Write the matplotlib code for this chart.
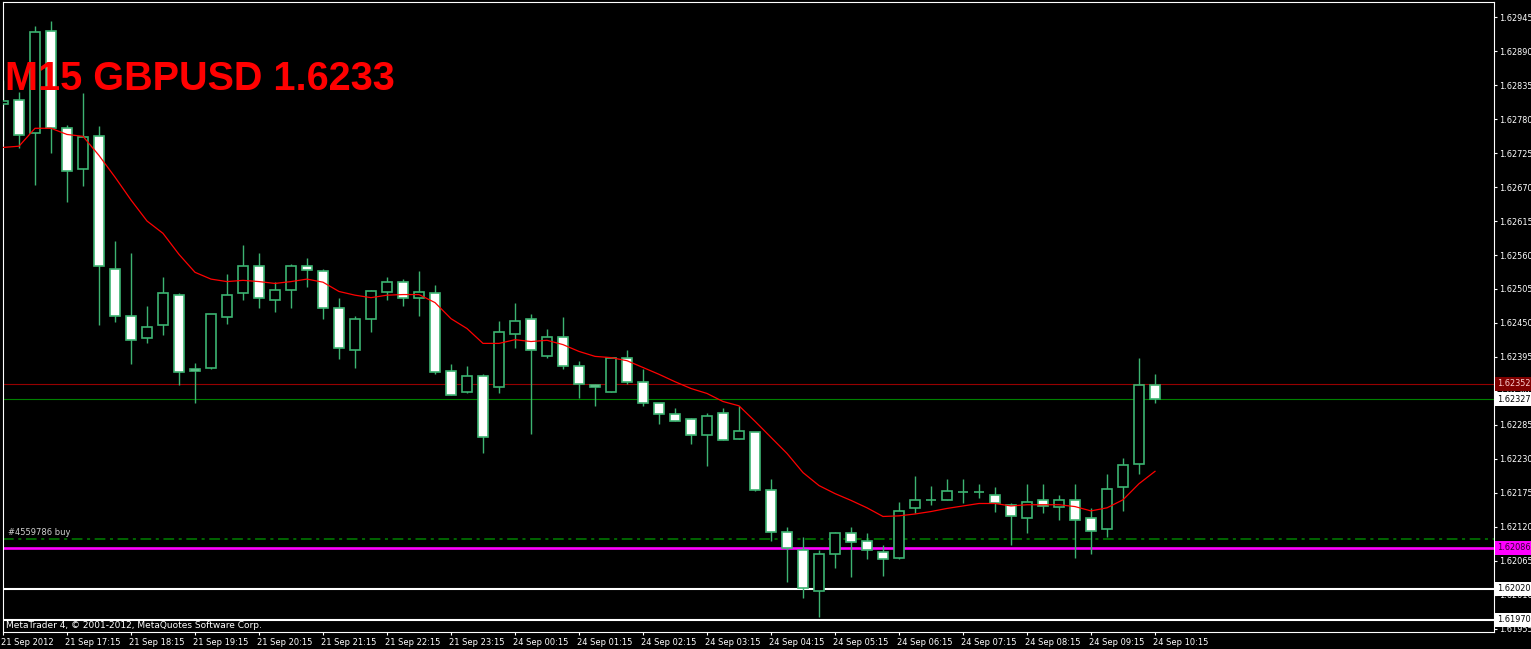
import matplotlib
matplotlib.use("Agg")
import matplotlib.pyplot as plt
import matplotlib.transforms as mtransforms

# M15 GBPUSD candles, 21 Sep 2012 16:15 .. 24 Sep 2012 10:15
opens = [1.62804, 1.62811, 1.62757, 1.62922, 1.62765, 1.62699, 1.62752, 1.62538,
         1.62461, 1.62425, 1.62446, 1.62496, 1.62376, 1.62378, 1.62459, 1.62498,
         1.62543, 1.62488, 1.62504, 1.62542, 1.62534, 1.62474, 1.62406, 1.62457,
         1.62500, 1.62517, 1.62490, 1.62498, 1.62373, 1.62338, 1.62365, 1.62346,
         1.62433, 1.62456, 1.62396, 1.62427, 1.62381, 1.62349, 1.62339, 1.62394,
         1.62355, 1.62320, 1.62303, 1.62295, 1.62269, 1.62305, 1.62263, 1.62273,
         1.62180, 1.62112, 1.62082, 1.62017, 1.62077, 1.62111, 1.62098, 1.62080,
         1.62070, 1.62150, 1.62164, 1.62163, 1.62176, 1.62176, 1.62172, 1.62156,
         1.62135, 1.62163, 1.62153, 1.62163, 1.62135, 1.62116, 1.62184, 1.62222,
         1.62350]
highs = [1.62843, 1.62824, 1.62930, 1.62939, 1.62770, 1.62822, 1.62768, 1.62582,
         1.62563, 1.62477, 1.62524, 1.62498, 1.62386, 1.62465, 1.62529, 1.62576,
         1.62563, 1.62516, 1.62545, 1.62555, 1.62538, 1.62490, 1.62462, 1.62503,
         1.62524, 1.62521, 1.62534, 1.62512, 1.62384, 1.62381, 1.62367, 1.62453,
         1.62482, 1.62464, 1.62441, 1.62459, 1.62389, 1.62352, 1.62394, 1.62406,
         1.62375, 1.62321, 1.62312, 1.62297, 1.62305, 1.62313, 1.62316, 1.62274,
         1.62198, 1.62120, 1.62103, 1.62082, 1.62112, 1.62120, 1.62111, 1.62091,
         1.62161, 1.62203, 1.62187, 1.62197, 1.62198, 1.62190, 1.62185, 1.62158,
         1.62190, 1.62190, 1.62171, 1.62190, 1.62151, 1.62205, 1.62231, 1.62393,
         1.62367]
lows = [1.62746, 1.62733, 1.62674, 1.62725, 1.62645, 1.62671, 1.62446, 1.62451,
        1.62383, 1.62417, 1.62431, 1.62349, 1.62321, 1.62375, 1.62448, 1.62488,
        1.62474, 1.62467, 1.62474, 1.62509, 1.62457, 1.62391, 1.62378, 1.62436,
        1.62487, 1.62477, 1.62462, 1.62368, 1.62334, 1.62336, 1.62240, 1.62336,
        1.62410, 1.62271, 1.62394, 1.62375, 1.62329, 1.62316, 1.62338, 1.62352,
        1.62316, 1.62287, 1.62292, 1.62255, 1.62218, 1.62261, 1.62263, 1.62179,
        1.62098, 1.62031, 1.62005, 1.61975, 1.62054, 1.62039, 1.62069, 1.62041,
        1.62069, 1.62143, 1.62156, 1.62163, 1.62158, 1.62167, 1.62145, 1.62091,
        1.62111, 1.62143, 1.62132, 1.62070, 1.62077, 1.62103, 1.62146, 1.62206,
        1.62321]
closes = [1.62809, 1.62754, 1.62921, 1.62765, 1.62696, 1.62751, 1.62542, 1.62462,
          1.62422, 1.62444, 1.62498, 1.62370, 1.62372, 1.62464, 1.62495, 1.62542,
          1.62490, 1.62504, 1.62543, 1.62535, 1.62475, 1.62409, 1.62456, 1.62501,
          1.62517, 1.62490, 1.62500, 1.62370, 1.62334, 1.62365, 1.62266, 1.62435,
          1.62453, 1.62406, 1.62428, 1.62381, 1.62352, 1.62346, 1.62393, 1.62355,
          1.62321, 1.62302, 1.62292, 1.62268, 1.62299, 1.62261, 1.62276, 1.62180,
          1.62112, 1.62086, 1.62022, 1.62077, 1.62111, 1.62095, 1.62082, 1.62069,
          1.62146, 1.62163, 1.62164, 1.62179, 1.62176, 1.62176, 1.62158, 1.62137,
          1.62161, 1.62154, 1.62164, 1.62132, 1.62114, 1.62182, 1.62221, 1.62349,
          1.62327]
# moving average as drawn on the chart
ma = [1.62734, 1.62736, 1.62765, 1.62765, 1.62755, 1.62752, 1.62721, 1.62686,
      1.62649, 1.62615, 1.62595, 1.62561, 1.62532, 1.62521, 1.62517, 1.62519,
      1.62517, 1.62514, 1.62517, 1.62521, 1.62516, 1.62501, 1.62495, 1.62491,
      1.62495, 1.62496, 1.62496, 1.62483, 1.62457, 1.62441, 1.62417, 1.62417,
      1.62423, 1.62420, 1.62422, 1.62415, 1.62404, 1.62396, 1.62394, 1.62389,
      1.62378, 1.62367, 1.62355, 1.62344, 1.62336, 1.62323, 1.62316, 1.62291,
      1.62265, 1.62239, 1.62208, 1.62187, 1.62174, 1.62163, 1.62151, 1.62137,
      1.62138, 1.62141, 1.62145, 1.62150, 1.62154, 1.62158, 1.62158, 1.62154,
      1.62156, 1.62156, 1.62156, 1.62153, 1.62146, 1.62151, 1.62164, 1.62190,
      1.62210]

time_labels = ["21 Sep 2012", "21 Sep 17:15", "21 Sep 18:15", "21 Sep 19:15",
               "21 Sep 20:15", "21 Sep 21:15", "21 Sep 22:15", "21 Sep 23:15",
               "24 Sep 00:15", "24 Sep 01:15", "24 Sep 02:15", "24 Sep 03:15",
               "24 Sep 04:15", "24 Sep 05:15", "24 Sep 06:15", "24 Sep 07:15",
               "24 Sep 08:15", "24 Sep 09:15", "24 Sep 10:15"]
price_ticks = [1.62945, 1.62890, 1.62835, 1.62780, 1.62725, 1.62670, 1.62615,
               1.62560, 1.62505, 1.62450, 1.62395, 1.62340, 1.62285, 1.62230,
               1.62175, 1.62120, 1.62065, 1.62010, 1.61955]

# horizontal levels
order_open = 1.62352
bid = 1.62327
buy_entry = 1.62100
buy_tp = 1.62086
level1 = 1.62020
level2 = 1.61970

W, H = 1531, 649
fig = plt.figure(figsize=(W / 100, H / 100), dpi=100, facecolor="black")
ax = fig.add_axes([3 / W, (H - 632) / H, (1494 - 3) / W, (632 - 2) / H])
ax.set_facecolor("black")

green = "#3cb371"
n = len(opens)
xs = list(range(n))

ax.vlines(xs, lows, highs, color=green, lw=1.0, zorder=2)
for i in xs:
    o, c = opens[i], closes[i]
    fc = "white" if c < o else "black"
    ax.bar(i, abs(c - o), bottom=min(o, c), width=0.58, color=fc,
           edgecolor=green, linewidth=1.2, zorder=3)

ax.plot(xs, ma, color="red", lw=0.9, zorder=4)

ax.axhline(order_open, color="#960000", lw=0.8, zorder=1)
ax.axhline(bid, color="#008000", lw=0.8, zorder=1)
ax.axhline(buy_entry, color="#008000", lw=1.1, dashes=(7, 3, 2, 3), zorder=1)
ax.axhline(buy_tp, color="#ff00ff", lw=1.9, zorder=1)
ax.axhline(level1, color="white", lw=1.5, zorder=1)
ax.axhline(level2, color="white", lw=1.5, zorder=1)

ax.set_xlim(0, (1494 - 3) / 16)
ax.set_ylim(1.619501, 1.629693)

for s in ax.spines.values():
    s.set_color("white")
    s.set_linewidth(0.8)

ax.yaxis.tick_right()
ax.set_yticks(price_ticks)
ax.set_yticklabels([f"{v:.5f}" for v in price_ticks])
ax.tick_params(axis="y", colors="white", length=2.2, width=0.8, labelsize=5.9, pad=1.2)

ax.set_xticks(list(range(0, n, 4)))
ax.set_xticklabels(time_labels)
ax.tick_params(axis="x", colors="white", length=2.5, width=0.8, labelsize=6, pad=1.5)
shift = mtransforms.ScaledTranslation(-0.02, 0, fig.dpi_scale_trans)
for lab in ax.get_xticklabels():
    lab.set_horizontalalignment("left")
    lab.set_transform(lab.get_transform() + shift)

# price tags on the right scale
for p, bg, fg in [(order_open, "#800000", "#ffd0d0"), (bid, "white", "black"),
                  (buy_tp, "#ff00ff", "#300030"), (level1, "white", "black"),
                  (level2, "white", "black")]:
    ax.annotate(f"{p:.5f}", xy=(1, p), xycoords=("axes fraction", "data"),
                xytext=(3, 0), textcoords="offset pixels", ha="left", va="center",
                fontsize=5.9, color=fg, annotation_clip=False, zorder=6,
                bbox=dict(boxstyle="square,pad=0.3", fc=bg, ec="none"))

ax.annotate("#4559786 buy", xy=(0, buy_entry), xycoords=("axes fraction", "data"),
            xytext=(5, 2), textcoords="offset pixels", ha="left", va="bottom",
            fontsize=6, color="#d0d0d0")

fig.text(5 / W, 1 - 90 / H, "M15 GBPUSD 1.6233", color="red", fontsize=28.5,
         fontweight="bold", family="Liberation Sans", va="baseline", zorder=10)
fig.text(6 / W, 1 - 625 / H, "MetaTrader 4, \u00a9 2001-2012, MetaQuotes Software Corp.",
         color="white", fontsize=6.5, va="center")

fig.savefig("out.png", dpi=100, facecolor="black")
